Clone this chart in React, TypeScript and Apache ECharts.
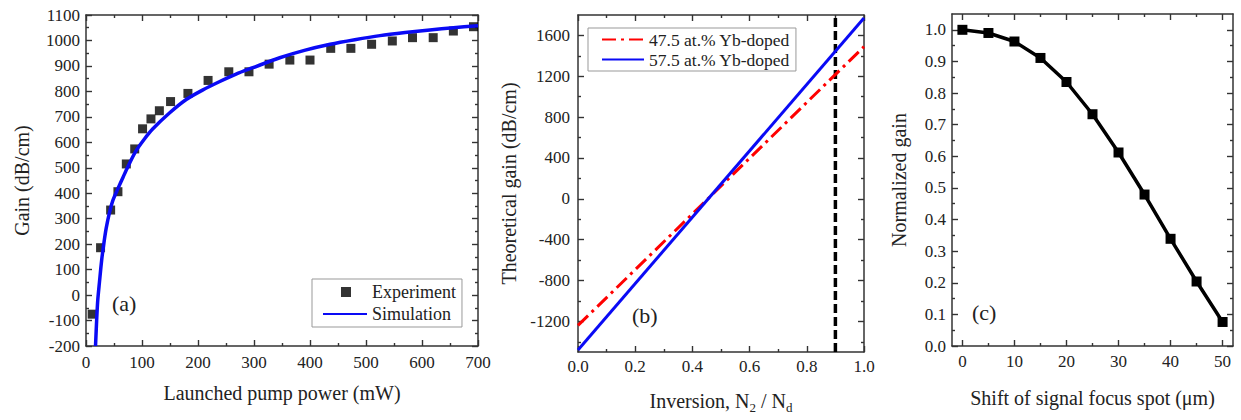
import React, { useEffect, useRef } from "react";
import * as echarts from "echarts";

// ---------- Panel (a) data ----------
const powerX = [11, 26, 44, 57, 72, 87, 101, 116, 131, 151, 182, 218, 255, 291, 327, 364, 400, 437, 473, 510, 547, 583, 620, 656, 692];
const gainExp = [-75, 186, 334, 406, 515, 574, 653, 692, 724, 760, 792, 843, 877, 877, 907, 923, 923, 969, 969, 985, 998, 1011, 1011, 1037, 1054];
const simX = [17, 19, 21, 24, 28, 32, 36, 42, 48, 57, 66, 75, 89, 104, 119, 149, 179, 208, 238, 268, 298, 346, 390, 436, 480, 525, 570, 614, 656, 700];
const simY = [-200, -100, -20, 50, 138, 205, 262, 325, 372, 418, 462, 505, 565, 612, 652, 715, 768, 805, 838, 868, 893, 932, 961, 985, 1003, 1019, 1031, 1041, 1050, 1058];
const aXMajor = [0, 100, 200, 300, 400, 500, 600, 700];
const aXMinor = [50, 150, 250, 350, 450, 550, 650];
const aYMajor = [-200, -100, 0, 100, 200, 300, 400, 500, 600, 700, 800, 900, 1000, 1100];
const aYMinor = [-150, -50, 50, 150, 250, 350, 450, 550, 650, 750, 850, 950, 1050];

// ---------- Panel (b) data ----------
const inversion = [0, 1];
const gain475 = [-1240, 1490];
const gain575 = [-1480, 1770];
const thresholdX = [0.9, 0.9];
const thresholdY = [-1500, 1800];
const bXMajor = [0, 0.2, 0.4, 0.6, 0.8, 1.0];
const bXMinor = [0.1, 0.3, 0.5, 0.7, 0.9];
const bYMajor = [-1200, -800, -400, 0, 400, 800, 1200, 1600];
const bYMinor = [-1400, -1000, -600, -200, 200, 600, 1000, 1400];

// ---------- Panel (c) data ----------
const shift = [0, 5, 10, 15, 20, 25, 30, 35, 40, 45, 50];
const normGain = [1.0, 0.99, 0.963, 0.911, 0.835, 0.733, 0.612, 0.479, 0.339, 0.204, 0.076];
const cXMajor = [0, 10, 20, 30, 40, 50];
const cXMinor = [5, 15, 25, 35, 45];
const cYMajor = [0, 0.1, 0.2, 0.3, 0.4, 0.5, 0.6, 0.7, 0.8, 0.9, 1.0];
const cYMinor = [0.05, 0.15, 0.25, 0.35, 0.45, 0.55, 0.65, 0.75, 0.85, 0.95];

const FONT = '"Liberation Serif", "Times New Roman", serif';
const AX = "#333";
const TICK = "#333";
const TXT = "#222";

function axesFor(o: any) {
  const mk = (pos: string, main: boolean, ticks: number[], len: number, labels: boolean) => {
    const ax: any = {
      type: "value",
      gridIndex: o.grid,
      min: o.min,
      max: o.max,
      position: pos,
      splitLine: { show: false },
      axisLine: { show: main, onZero: false, lineStyle: { color: AX, width: 1.5 } },
      axisTick: { show: true, inside: true, length: len, customValues: ticks, lineStyle: { color: TICK, width: 1.4 } },
      axisLabel: labels
        ? { show: true, customValues: ticks, formatter: o.fmt, margin: o.labelMargin, color: TXT, fontFamily: FONT, fontSize: 17 }
        : { show: false },
    };
    if (labels) {
      ax.name = o.name;
      ax.nameLocation = "middle";
      ax.nameGap = o.nameGap;
      ax.nameTextStyle = o.rich
        ? { color: TXT, fontFamily: FONT, fontSize: 20, rich: o.rich }
        : { color: TXT, fontFamily: FONT, fontSize: 20 };
    }
    return ax;
  };
  const posA = o.dim === "x" ? "bottom" : "left";
  const posB = o.dim === "x" ? "top" : "right";
  return [
    mk(posA, true, o.major, 6, true),
    mk(posA, false, o.minor, 3, false),
    mk(posB, true, o.major, 6, false),
    mk(posB, false, o.minor, 3, false),
  ];
}

export default function App() {
  const ref = useRef<HTMLDivElement>(null);
  useEffect(() => {
    if (!ref.current) return;
    const chart = echarts.init(ref.current, null, { renderer: "svg" });
    const xAxis = [
      ...axesFor({ grid: 0, dim: "x", min: 0, max: 700, major: aXMajor, minor: aXMinor, fmt: (v: number) => String(v), labelMargin: 8, name: "Launched pump power (mW)", nameGap: 37 }),
      ...axesFor({ grid: 1, dim: "x", min: 0, max: 1, major: bXMajor, minor: bXMinor, fmt: (v: number) => v.toFixed(1), labelMargin: 6, name: "Inversion, N{s|2} / N{s|d}", nameGap: 35, rich: { s: { fontSize: 13, fontFamily: FONT, color: TXT, padding: [14, 0, 0, 0] } } }),
      ...axesFor({ grid: 2, dim: "x", min: -2, max: 52, major: cXMajor, minor: cXMinor, fmt: (v: number) => String(v), labelMargin: 7, name: "Shift of signal focus spot (μm)", nameGap: 42 }),
    ];
    const yAxis = [
      ...axesFor({ grid: 0, dim: "y", min: -200, max: 1100, major: aYMajor, minor: aYMinor, fmt: (v: number) => String(v), labelMargin: 6, name: "Gain (dB/cm)", nameGap: 54 }),
      ...axesFor({ grid: 1, dim: "y", min: -1500, max: 1800, major: bYMajor, minor: bYMinor, fmt: (v: number) => String(v), labelMargin: 8, name: "Theoretical gain (dB/cm)", nameGap: 59 }),
      ...axesFor({ grid: 2, dim: "y", min: 0, max: 1.05, major: cYMajor, minor: cYMinor, fmt: (v: number) => v.toFixed(1), labelMargin: 6, name: "Normalized gain", nameGap: 43 }),
    ];
    chart.setOption({
      animation: false,
      backgroundColor: "#fff",
      grid: [
        { left: 86, top: 15, width: 392, height: 331 },
        { left: 578, top: 15, width: 286, height: 337 },
        { left: 952, top: 14, width: 281, height: 332 },
      ],
      xAxis,
      yAxis,
      legend: [
        {
          data: [
            { name: "Experiment", icon: "path://M0,0L0.01,0M44,12L44.01,12M18,1L28,1L28,11L18,11Z" },
            { name: "Simulation", itemStyle: { opacity: 0 } },
          ],
          orient: "vertical",
          align: "left",
          left: 312,
          top: 279,
          itemWidth: 44,
          itemHeight: 12,
          itemGap: 2,
          padding: [3, 6, 3, 10],
          borderColor: "#999",
          borderWidth: 1,
          backgroundColor: "#fff",
          textStyle: { color: TXT, fontFamily: FONT, fontSize: 18, lineHeight: 20 },
          selectedMode: false,
        },
        {
          data: [
            { name: "47.5 at.% Yb-doped", itemStyle: { opacity: 0 } },
            { name: "57.5 at.% Yb-doped", itemStyle: { opacity: 0 } },
          ],
          orient: "vertical",
          align: "left",
          left: 588,
          top: 28,
          itemWidth: 42,
          itemHeight: 12,
          itemGap: 1,
          padding: [2, 6, 2, 13],
          borderColor: "#999",
          borderWidth: 1,
          backgroundColor: "#fff",
          textStyle: { color: TXT, fontFamily: FONT, fontSize: 17.5, lineHeight: 19 },
          selectedMode: false,
        },
      ],
      series: [
        {
          name: "Simulation",
          type: "line",
          xAxisIndex: 0,
          yAxisIndex: 0,
          data: simX.map((x, i) => [x, simY[i]]),
          smooth: 0.3,
          symbol: "none",
          lineStyle: { color: "#0a0af5", width: 3.5 },
          itemStyle: { color: "#0a0af5" },
        },
        {
          name: "Experiment",
          type: "scatter",
          xAxisIndex: 0,
          yAxisIndex: 0,
          data: powerX.map((x, i) => [x, gainExp[i]]),
          symbol: "rect",
          symbolSize: 9,
          itemStyle: { color: "#000" },
        },
        {
          name: "threshold",
          type: "line",
          xAxisIndex: 4,
          yAxisIndex: 4,
          data: thresholdX.map((x, i) => [x, thresholdY[i]]),
          symbol: "none",
          lineStyle: { color: "#000", width: 3.5, type: [9, 4] },
        },
        {
          name: "47.5 at.% Yb-doped",
          type: "line",
          xAxisIndex: 4,
          yAxisIndex: 4,
          data: inversion.map((x, i) => [x, gain475[i]]),
          symbol: "none",
          lineStyle: { color: "#ff0000", width: 3, type: [14, 5, 3, 5] },
          itemStyle: { color: "#ff0000" },
        },
        {
          name: "57.5 at.% Yb-doped",
          type: "line",
          xAxisIndex: 4,
          yAxisIndex: 4,
          data: inversion.map((x, i) => [x, gain575[i]]),
          symbol: "none",
          lineStyle: { color: "#0a0af5", width: 3 },
          itemStyle: { color: "#0a0af5" },
        },
        {
          name: "Normalized gain",
          type: "line",
          xAxisIndex: 8,
          yAxisIndex: 8,
          data: shift.map((x, i) => [x, normGain[i]]),
          symbol: "rect",
          symbolSize: 10,
          lineStyle: { color: "#000", width: 3.5 },
          itemStyle: { color: "#000" },
        },
      ],
      graphic: [
        { type: "text", left: 112, top: 292, style: { text: "(a)", fontSize: 22, fontFamily: FONT, fill: TXT } },
        { type: "text", left: 632, top: 304, style: { text: "(b)", fontSize: 22, fontFamily: FONT, fill: TXT } },
        { type: "text", left: 972, top: 301, style: { text: "(c)", fontSize: 22, fontFamily: FONT, fill: TXT } },
      ],
    });
    return () => chart.dispose();
  }, []);
  return <div ref={ref} style={{ position: "absolute", left: 0, top: 0, width: 1241, height: 420 }} />;
}
